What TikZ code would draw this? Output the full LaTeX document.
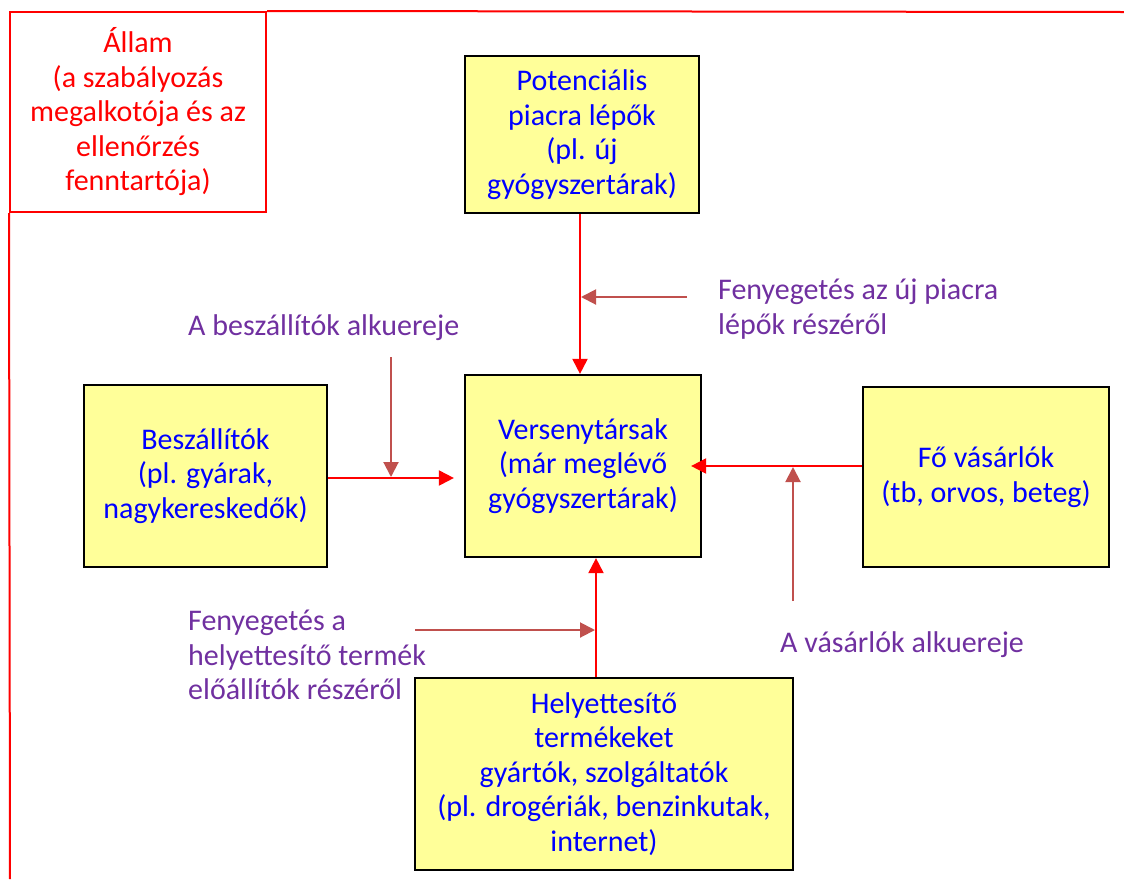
\documentclass[tikz,border=0pt]{standalone}
\usepackage{fontspec}
\setmainfont{Carlito}
\usepackage[x11names, rgb]{xcolor}
\usepackage{tikz}
\usetikzlibrary{arrows.meta,shapes}

\definecolor{sarga}{HTML}{FFFF99}
\definecolor{kek}{HTML}{0000FF}
\definecolor{lila}{HTML}{7030A0}
\definecolor{piros}{HTML}{FF0000}
\definecolor{bordo}{HTML}{C0504D}

\begin{document}
\begin{tikzpicture}
[x=1pt,y=-1pt,font=\fontsize{30}{34.5}\selectfont]
\tikzset{
	doboz/.style = {rectangle, draw=black, line width=2.2pt, fill=sarga, text=kek, align=center, inner sep=0},
	allam/.style = {rectangle, draw=piros, line width=2pt, text=piros, align=center, inner sep=0},
	felirat/.style = {text=lila, align=left, inner sep=0, anchor=west},
	fo/.style = {draw=piros, line width=2pt, -{Triangle[length=15pt,width=15pt]}},
	hatas/.style = {draw=bordo, line width=2pt, -{Triangle[length=15pt,width=15pt]}}
}
\useasboundingbox (0,0) rectangle (1124,879);

\node(allam) [allam, minimum width=256, minimum height=200] at (138,112)
	{Állam\\(a szabályozás\\megalkotója és az\\ellenőrzés\\fenntartója)};
\draw[piros, line width=2pt] (allam.north east) -- (1124,12);
\draw[piros, line width=2pt] (allam.south west) -- (10,879);

\node(uj) [doboz, minimum width=234, minimum height=157] at (582,134.5)
	{Potenciális\\piacra lépők\\(pl. új\\gyógyszertárak)};
\node(verseny) [doboz, minimum width=236, minimum height=182] at (583,466)
	{Versenytársak\\(már meglévő\\gyógyszertárak)};
\node(szallito) [doboz, minimum width=243, minimum height=182] at (205.5,476)
	{Beszállítók\\(pl. gyárak,\\nagykereskedők)};
\node(vevo) [doboz, minimum width=246, minimum height=180] at (986,477)
	{Fő vásárlók\\(tb, orvos, beteg)};
\node(helyettes) [doboz, minimum width=378, minimum height=192] at (604,774)
	{Helyettesítő\\termékeket\\gyártók, szolgáltatók\\(pl. drogériák, benzinkutak,\\internet)};

% fo iranyok
\draw[fo] (uj.south -| 580,0) -- (verseny.north -| 580,0);
\draw[fo, shorten >=10pt] (szallito.east |- 0,478) -- (verseny.west |- 0,478);
\draw[fo, shorten >=-11pt] (vevo.west |- 0,466) -- (verseny.east |- 0,466);
\draw[fo] (helyettes.north -| 596,0) -- (verseny.south -| 596,0);

% hatasok
\coordinate (ujkezd) at (687,297);
\coordinate (ujveg) at (581,297);
\coordinate (szkezd) at (391,357);
\coordinate (szveg) at (391,477);
\coordinate (vkezd) at (793,601);
\coordinate (vveg) at (793,467);
\coordinate (hkezd) at (415,630);
\coordinate (hveg) at (595,630);
\draw[hatas] (ujkezd) -- (ujveg);
\draw[hatas] (szkezd) -- (szveg);
\draw[hatas] (vkezd) -- (vveg);
\draw[hatas] (hkezd) -- (hveg);

\node(fujl) [felirat] at (718,309) {Fenyegetés az új piacra\\lépők részéről};
\node(fszl) [felirat] at (188,328) {A beszállítók alkuereje};
\node(fvl) [felirat] at (780,645) {A vásárlók alkuereje};
\node(fhl) [felirat] at (188,655) {Fenyegetés a\\helyettesítő termék\\előállítók részéről};

\end{tikzpicture}
\end{document}
